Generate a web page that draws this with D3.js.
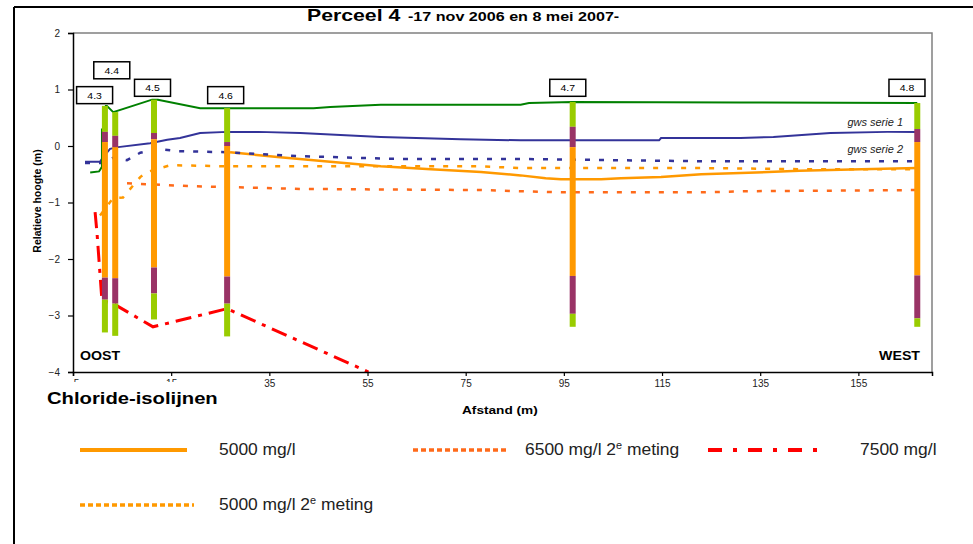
<!DOCTYPE html>
<html>
<head>
<meta charset="utf-8">
<script src="https://cdn.jsdelivr.net/npm/d3@7"></script>
<style>
  html, body { margin: 0; padding: 0; background: #fff; }
  svg { display: block; font-family: "Liberation Sans", Arial, sans-serif; }
</style>
</head>
<body>
<svg id="chart" width="973" height="544"></svg>
<script>
// peilbuizen (wells)
const wellNames = ["4.3", "4.4", "4.5", "4.6", "4.7", "4.8"];
const wellDist = [1.5, 3.6, 11.5, 26.4, 96.8, 167];
// layer boundaries top -> bottom (m)
const wellLevels = [
    [0.71, 0.25, 0.07, -2.33, -2.72, -3.30],
    [0.60, 0.18, -0.02, -2.34, -2.79, -3.36],
    [0.82, 0.23, 0.12, -2.15, -2.61, -3.07],
    [0.67, 0.07, 0.00, -2.31, -2.79, -3.37],
    [0.78, 0.34, -0.02, -2.30, -2.97, -3.20],
    [0.76, 0.30, 0.07, -2.29, -3.05, -3.20]
];
const labelDist = [-0.6, 2.9, 11.2, 26.1, 95.8, 164.9];
const labelLevel = [0.9, 1.34, 1.03, 0.9, 1.03, 1.03];

// maaiveld
const surfaceDist = [1.5, 1.9, 3.2, 11.1, 12.3, 20.9, 44, 47.4, 57.7, 86.2, 87.9, 96.8, 131, 167];
const surfaceLevel = [0.71, 0.71, 0.6, 0.82, 0.82, 0.67, 0.67, 0.69, 0.73, 0.73, 0.76, 0.78, 0.77, 0.76];
const greenStubDist = [0.9, 0.9, 0.3, -1.5];
const greenStubLevel = [0.31, -0.37, -0.45, -0.47];

// grondwaterstand
const gws1Dist = [-2.55, 0.5, 1.1, 2.55, 4.2, 10.7, 14.2, 16.8, 20.9, 26.4, 32.8, 41.3, 57.7, 74, 86.2, 114.4, 114.8, 131, 137.7, 149.3, 160.9, 167];
const gws1Level = [-0.28, -0.28, -0.2, -0.05, -0.02, 0.05, 0.11, 0.14, 0.23, 0.25, 0.25, 0.23, 0.16, 0.12, 0.1, 0.1, 0.14, 0.14, 0.16, 0.23, 0.25, 0.25];
const gws2Dist = [-2.55, 1.1, 3.2, 6, 8.7, 12.1, 16.2, 26.4, 41.3, 61.7, 86.2, 123, 167];
const gws2Level = [-0.3, -0.3, -0.21, -0.25, -0.12, -0.05, -0.09, -0.11, -0.18, -0.23, -0.23, -0.27, -0.27];

// chloride-isolijnen
const cl5000Dist = [27, 37.2, 47.4, 57.7, 67.9, 78.1, 86.2, 91.3, 94.4, 102.6, 106.6, 114.8, 123, 131, 143, 155.6, 167];
const cl5000Level = [-0.11, -0.2, -0.28, -0.36, -0.41, -0.46, -0.52, -0.57, -0.59, -0.59, -0.57, -0.55, -0.5, -0.48, -0.44, -0.41, -0.39];
const cl5000bDist = [0.5, 3.2, 5.2, 8.7, 10.1, 14.8, 27, 78, 86, 123, 143, 167];
const cl5000bLevel = [-1.23, -0.92, -0.91, -0.55, -0.46, -0.34, -0.36, -0.36, -0.39, -0.39, -0.41, -0.41];
const cl6500bDist = [6, 18.9, 41.3, 78, 94.4, 123, 133, 167];
const cl6500bLevel = [-0.66, -0.71, -0.76, -0.78, -0.82, -0.82, -0.8, -0.78];
const cl7500Dist = [-0.5, -0.1, 0.9, 3.2, 11.3, 26.4, 55.2];
const cl7500Level = [-1.17, -1.55, -2.74, -2.79, -3.2, -2.88, -4.0];

const xTicks = [-5, 15, 35, 55, 75, 95, 115, 135, 155];
const yTicks = [-4, -3, -2, -1, 0, 1, 2];

const layerColors = ["#99cc00", "#993366", "#ff9900", "#993366", "#99cc00"];

const svg = d3.select("#chart");
const x = d3.scaleLinear().domain([-5, 170]).range([73, 932]);
const y = d3.scaleLinear().domain([-4, 2]).range([372, 33]);

// tekst iets breed getrokken zoals in het origineel
function txt(g, px, py, str, size, sx, opts = {}) {
    return g.append("text")
        .attr("transform", `translate(${px},${py}) scale(${sx},1)`)
        .attr("font-size", size)
        .attr("font-weight", opts.bold ? "bold" : null)
        .attr("font-style", opts.italic ? "italic" : null)
        .attr("text-anchor", opts.anchor || "start")
        .attr("fill", opts.fill || "#000")
        .text(str);
}

// outer frame
svg.append("line").attr("x1", 14).attr("x2", 973).attr("y1", 7).attr("y2", 7).attr("stroke", "#000").attr("stroke-width", 2);
svg.append("line").attr("x1", 14).attr("x2", 14).attr("y1", 7).attr("y2", 544).attr("stroke", "#000").attr("stroke-width", 2);

// title
txt(svg, 307, 21, "Perceel 4", 17, 1.25, { bold: true });
txt(svg, 408, 21, "-17 nov 2006 en 8 mei 2007-", 13, 1.24, { bold: true });

// plot frame (top/right grey)
svg.append("path")
    .attr("d", `M${x(-5)},${y(2)}H${x(170)}V${y(-4)}`)
    .attr("fill", "none").attr("stroke", "#808080").attr("stroke-width", 1.5);

const line = d3.line().x(d => x(d[0])).y(d => y(d[1]));
const zip = (a, b) => a.map((v, i) => [v, b[i]]);

function drawLine(dist, level, color, width, dash) {
    svg.append("path")
        .datum(zip(dist, level))
        .attr("d", line)
        .attr("fill", "none")
        .attr("stroke", color)
        .attr("stroke-width", width)
        .attr("stroke-dasharray", dash || null);
}

drawLine(cl6500bDist, cl6500bLevel, "#ff6a1a", 2.5, "5,9");
drawLine(cl5000bDist, cl5000bLevel, "#ff9900", 2.5, "5,9");
drawLine(cl5000Dist, cl5000Level, "#ff9900", 2.5);
drawLine(cl7500Dist, cl7500Level, "#ff0000", 3, "16,7,4,7");
drawLine(gws2Dist, gws2Level, "#333399", 2.5, "5,9");
drawLine(gws1Dist, gws1Level, "#333399", 2);
drawLine(surfaceDist, surfaceLevel, "#008000", 2);
drawLine(greenStubDist, greenStubLevel, "#008000", 2);

// wells
wellNames.forEach((name, i) => {
    const lv = wellLevels[i];
    const g = svg.append("g");
    g.selectAll("rect")
        .data(d3.range(5))
        .enter().append("rect")
        .attr("x", x(wellDist[i]) - 3)
        .attr("width", 6)
        .attr("y", k => y(lv[k]))
        .attr("height", k => y(lv[k + 1]) - y(lv[k]))
        .attr("fill", k => layerColors[k]);
});

// well labels
wellNames.forEach((name, i) => {
    const cx = x(labelDist[i]), cy = y(labelLevel[i]);
    svg.append("rect")
        .attr("x", cx - 18).attr("y", cy - 8.5)
        .attr("width", 36).attr("height", 17)
        .attr("fill", "#fff").attr("stroke", "#000").attr("stroke-width", 1.5);
    txt(svg, cx, cy + 3.5, name, 9.5, 1.1, { anchor: "middle" });
});

txt(svg, 903, 126, "gws serie 1", 10, 1.1, { italic: true, anchor: "end", fill: "#222" });
txt(svg, 903, 153, "gws serie 2", 10, 1.1, { italic: true, anchor: "end", fill: "#222" });
txt(svg, 80, 360, "OOST", 13.5, 1.05, { bold: true });
txt(svg, 920, 360, "WEST", 13.5, 1.05, { bold: true, anchor: "end" });

// axes
const yAxis = svg.append("g")
    .attr("transform", `translate(${x(-5)},0)`)
    .call(d3.axisLeft(y).tickValues(yTicks).tickSize(5).tickPadding(8).tickFormat(d3.format("d")));
const xAxis = svg.append("g")
    .attr("transform", `translate(0,${y(-4)})`)
    .call(d3.axisBottom(x).tickValues(xTicks).tickSize(4).tickPadding(4).tickFormat(d3.format("d")));
[yAxis, xAxis].forEach(a => {
    a.select(".domain").attr("stroke", "#000").attr("stroke-width", 1.5);
    a.selectAll(".tick line").attr("stroke", "#000").attr("stroke-width", 1.2);
    a.selectAll(".tick text").attr("font-size", 10).attr("fill", "#222")
        .attr("font-family", "\"Liberation Sans\", Arial, sans-serif");
});

svg.append("text")
    .attr("transform", "translate(41,201) rotate(-90)")
    .attr("text-anchor", "middle")
    .attr("font-size", 10.5).attr("font-weight", "bold")
    .text("Relatieve hoogte (m)");
txt(svg, 462, 414, "Afstand (m)", 10.5, 1.3, { bold: true });

// Chloride-isolijnen header (covers part of the first tick labels)
svg.append("rect").attr("x", 30).attr("y", 382).attr("width", 200).attr("height", 28).attr("fill", "#fff");
txt(svg, 47, 404, "Chloride-isolijnen", 17, 1.19, { bold: true });

// legend
const legend = [
    { lx: 80, lx2: 187, ly: 450, color: "#ff9900", dash: null, w: 4, tx: 219, text: "5000 mg/l" },
    { lx: 413, lx2: 506, ly: 450, color: "#ff6a1a", dash: "5,3", w: 3.5, tx: 525, text: "6500 mg/l 2", sup: true },
    { lx: 708, lx2: 822, ly: 450, color: "#ff0000", dash: "14,11,4,11", w: 4, tx: 860, text: "7500 mg/l" },
    { lx: 80, lx2: 194, ly: 505, color: "#ff9900", dash: "5,3", w: 3.5, tx: 219, text: "5000 mg/l 2", sup: true }
];
legend.forEach(d => {
    svg.append("line")
        .attr("x1", d.lx).attr("x2", d.lx2).attr("y1", d.ly).attr("y2", d.ly)
        .attr("stroke", d.color).attr("stroke-width", d.w)
        .attr("stroke-dasharray", d.dash);
    const t = txt(svg, d.tx, d.ly + 5, d.text, 16, 1.09, { fill: "#222" });
    if (d.sup) {
        t.append("tspan").attr("dy", -6).attr("font-size", 10).text("e");
        t.append("tspan").attr("dy", 6).text(" meting");
    }
});
</script>
</body>
</html>
